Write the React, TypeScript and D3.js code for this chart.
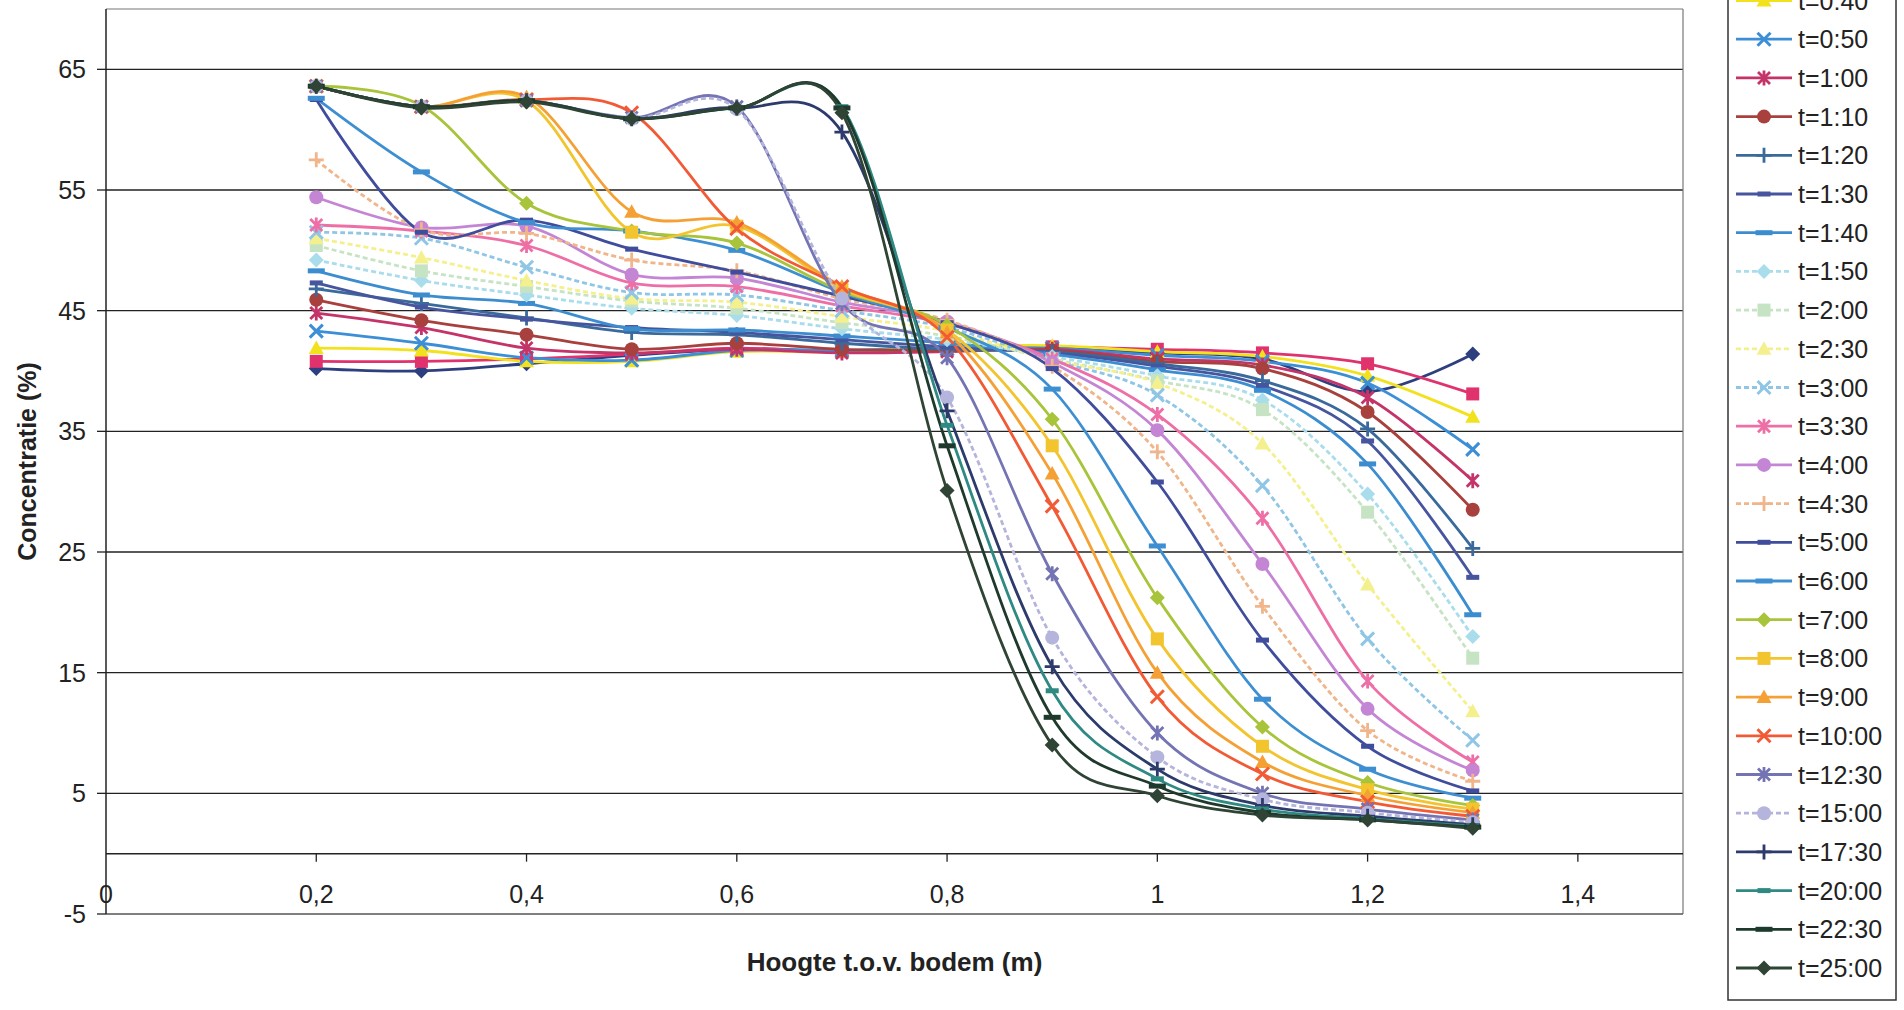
import React from "react";
import * as d3 from "d3";

const heights = [0.2, 0.3, 0.4, 0.5, 0.6, 0.7, 0.8, 0.9, 1.0, 1.1, 1.2, 1.3];

const seriesNames = [
  "t=0:20", "t=0:30", "t=0:40", "t=0:50", "t=1:00", "t=1:10", "t=1:20",
  "t=1:30", "t=1:40", "t=1:50", "t=2:00", "t=2:30", "t=3:00", "t=3:30",
  "t=4:00", "t=4:30", "t=5:00", "t=6:00", "t=7:00", "t=8:00", "t=9:00",
  "t=10:00", "t=12:30", "t=15:00", "t=17:30", "t=20:00", "t=22:30", "t=25:00",
];

const s0020 = [40.2, 40.0, 40.6, 41.3, 41.8, 41.7, 41.9, 41.9, 41.5, 41.0, 38.3, 41.4];
const s0030 = [40.8, 40.8, 41.0, 41.4, 41.9, 41.6, 42.0, 42.0, 41.8, 41.5, 40.6, 38.1];
const s0040 = [41.9, 41.7, 40.8, 40.8, 41.6, 41.6, 42.0, 42.1, 41.6, 41.2, 39.6, 36.2];
const s0050 = [43.3, 42.3, 41.1, 40.9, 41.7, 41.7, 41.8, 41.9, 41.3, 40.8, 39.0, 33.5];
const s0100 = [44.8, 43.6, 41.9, 41.5, 41.8, 41.5, 41.6, 41.8, 41.0, 40.5, 37.8, 30.9];
const s0110 = [45.9, 44.2, 43.0, 41.8, 42.3, 41.8, 41.7, 41.7, 40.8, 40.2, 36.6, 28.5];
const s0120 = [46.8, 45.6, 44.4, 43.2, 43.0, 42.3, 41.8, 41.6, 40.6, 39.2, 35.2, 25.3];
const s0130 = [47.3, 45.3, 44.3, 43.6, 43.2, 42.6, 42.0, 41.5, 40.4, 38.8, 34.2, 22.9];
const s0140 = [48.3, 46.3, 45.6, 43.5, 43.4, 42.9, 42.3, 41.4, 40.1, 38.4, 32.3, 19.8];
const s0150 = [49.2, 47.5, 46.3, 45.2, 44.6, 43.5, 42.6, 41.2, 39.6, 37.6, 29.8, 18.0];
const s0200 = [50.4, 48.3, 47.0, 45.8, 45.2, 44.0, 42.9, 41.0, 39.2, 36.8, 28.3, 16.2];
const s0230 = [51.0, 49.4, 47.5, 46.0, 45.7, 44.5, 43.3, 40.9, 39.0, 34.0, 22.3, 11.8];
const s0300 = [51.5, 51.0, 48.6, 46.5, 46.3, 45.0, 43.6, 40.9, 38.0, 30.5, 17.8, 9.4];
const s0330 = [52.1, 51.6, 50.4, 47.3, 47.0, 45.4, 43.9, 41.0, 36.4, 27.8, 14.3, 7.6];
const s0400 = [54.4, 51.9, 52.0, 48.0, 47.7, 45.7, 44.1, 40.7, 35.1, 24.0, 12.0, 6.9];
const s0430 = [57.5, 51.7, 51.4, 49.2, 48.3, 46.0, 44.2, 40.4, 33.3, 20.5, 10.2, 6.0];
const s0500 = [62.5, 51.5, 52.5, 50.1, 48.2, 46.2, 44.0, 40.2, 30.8, 17.7, 8.9, 5.2];
const s0600 = [62.6, 56.5, 52.3, 51.6, 50.0, 46.5, 43.6, 38.5, 25.5, 12.8, 7.0, 4.6];
const s0700 = [63.6, 62.0, 53.9, 51.6, 50.6, 46.6, 43.8, 36.0, 21.2, 10.5, 5.9, 4.0];
const s0800 = [63.6, 61.9, 62.4, 51.5, 52.0, 46.8, 43.4, 33.8, 17.8, 8.9, 5.3, 3.7];
const s0900 = [63.6, 61.9, 62.7, 53.2, 52.3, 47.0, 43.2, 31.5, 15.0, 7.6, 4.8, 3.4];
const s1000 = [63.6, 61.9, 62.5, 61.4, 51.8, 47.0, 42.8, 28.8, 13.0, 6.6, 4.3, 3.1];
const s1230 = [63.6, 61.9, 62.4, 61.0, 61.9, 45.6, 41.1, 23.2, 10.0, 5.0, 3.7, 2.8];
const s1500 = [63.6, 61.9, 62.4, 60.9, 61.7, 46.0, 37.8, 17.9, 8.0, 4.5, 3.4, 2.6];
const s1730 = [63.6, 61.9, 62.4, 60.9, 61.8, 59.8, 36.7, 15.5, 7.0, 4.0, 3.1, 2.4];
const s2000 = [63.6, 61.9, 62.4, 60.9, 61.8, 61.9, 35.5, 13.5, 6.2, 3.7, 2.9, 2.3];
const s2230 = [63.6, 61.9, 62.4, 60.9, 61.8, 61.8, 33.8, 11.3, 5.6, 3.4, 2.8, 2.2];
const s2500 = [63.6, 61.8, 62.3, 60.9, 61.8, 61.4, 30.1, 9.0, 4.8, 3.2, 2.8, 2.1];

const seriesValues = [
  s0020, s0030, s0040, s0050, s0100, s0110, s0120, s0130, s0140, s0150,
  s0200, s0230, s0300, s0330, s0400, s0430, s0500, s0600, s0700, s0800,
  s0900, s1000, s1230, s1500, s1730, s2000, s2230, s2500,
];

const seriesColors = [
  "#2E3F7F", "#E0336E", "#F2E21E", "#3C8ED6", "#C43468", "#A8403E", "#3A6A9C",
  "#46559E", "#3C8DD0", "#A9DDEB", "#C6E4C4", "#F4F08E", "#8FC6E6", "#EE6FA6",
  "#C486D4", "#F0B58A", "#404C9C", "#3E8FD2", "#A8C43A", "#F2C42E", "#F5A035",
  "#F25A35", "#7474B4", "#B4B4DC", "#2C3B6C", "#2E8A82", "#1E3A2C", "#2F4435",
];

const markerCycle = ["diamond", "square", "triangle", "x", "star", "circle", "plus", "dash", "longdash"];
const dottedSeries = ["t=1:50", "t=2:00", "t=2:30", "t=3:00", "t=4:30", "t=15:00"];

const xTicks = [0, 0.2, 0.4, 0.6, 0.8, 1.0, 1.2, 1.4];
const yTicks = [-5, 5, 15, 25, 35, 45, 55, 65];

const W = 1904;
const H = 1010;
const plot = { left: 106, right: 1683, top: 9, bottom: 914 };

function Marker({ type, x, y, color }: { type: string; x: number; y: number; color: string }) {
  const s = 7.5;
  switch (type) {
    case "diamond":
      return <path d={`M${x},${y - s}L${x + s},${y}L${x},${y + s}L${x - s},${y}Z`} fill={color} />;
    case "square":
      return <rect x={x - 6.5} y={y - 6.5} width={13} height={13} fill={color} />;
    case "triangle":
      return <path d={`M${x},${y - 7.5}L${x + 7.5},${y + 6}L${x - 7.5},${y + 6}Z`} fill={color} />;
    case "x":
      return (
        <path d={`M${x - 6.5},${y - 6.5}L${x + 6.5},${y + 6.5}M${x - 6.5},${y + 6.5}L${x + 6.5},${y - 6.5}`} stroke={color} strokeWidth={3} />
      );
    case "star":
      return (
        <path
          d={`M${x - 6},${y - 6}L${x + 6},${y + 6}M${x - 6},${y + 6}L${x + 6},${y - 6}M${x},${y - 7.5}L${x},${y + 7.5}`}
          stroke={color}
          strokeWidth={2.8}
        />
      );
    case "circle":
      return <circle cx={x} cy={y} r={7} fill={color} />;
    case "plus":
      return <path d={`M${x - 7.5},${y}L${x + 7.5},${y}M${x},${y - 7.5}L${x},${y + 7.5}`} stroke={color} strokeWidth={2.8} />;
    case "dash":
      return <rect x={x - 6.5} y={y - 2.5} width={13} height={5} fill={color} />;
    default:
      return <rect x={x - 8.5} y={y - 2.5} width={17} height={5} fill={color} />;
  }
}

export default function App() {
  const xScale = d3.scaleLinear().domain([0, 1.5]).range([plot.left, plot.right]);
  const yScale = d3.scaleLinear().domain([-5, 70]).range([plot.bottom, plot.top]);
  const line = d3
    .line<number>()
    .x((_, i) => xScale(heights[i]))
    .y((d) => yScale(d))
    .curve(d3.curveCatmullRom.alpha(0));

  const fmt = (v: number) => String(v).replace(".", ",");
  const font = "'Liberation Sans', Arial, sans-serif";

  const legendX = 1728;
  const legendStep = 38.7;
  const legendY0 = 0.5 - 2 * legendStep;

  return (
    <svg
      width={W}
      height={H}
      style={{ position: "fixed", left: 0, top: 0, background: "#fff" }}
      fontFamily={font}
    >
      <rect x={0} y={0} width={W} height={H} fill="#fff" />
      {yTicks
        .filter((t) => t > -5)
        .map((t) => (
          <line key={t} x1={plot.left} x2={plot.right} y1={yScale(t)} y2={yScale(t)} stroke="#222" strokeWidth={1.3} />
        ))}
      <line x1={plot.left} x2={plot.right} y1={plot.top} y2={plot.top} stroke="#777" strokeWidth={1.2} />
      <line x1={plot.right} x2={plot.right} y1={plot.top} y2={plot.bottom} stroke="#777" strokeWidth={1.2} />
      <line x1={plot.left} x2={plot.right} y1={plot.bottom} y2={plot.bottom} stroke="#555" strokeWidth={1.5} />
      <line x1={plot.left} x2={plot.right} y1={yScale(0)} y2={yScale(0)} stroke="#222" strokeWidth={1.5} />
      {xTicks
        .filter((t) => t > 0)
        .map((t) => (
          <line key={t} x1={xScale(t)} x2={xScale(t)} y1={yScale(0)} y2={yScale(0) + 8} stroke="#222" strokeWidth={1.3} />
        ))}
      <line x1={plot.left} x2={plot.left} y1={plot.top} y2={plot.bottom} stroke="#222" strokeWidth={1.5} />
      {yTicks.map((t) => (
        <line key={t} x1={plot.left - 9} x2={plot.left} y1={yScale(t)} y2={yScale(t)} stroke="#222" strokeWidth={1.3} />
      ))}
      {yTicks.map((t) => (
        <text key={t} x={plot.left - 20} y={yScale(t)} dy="0.36em" textAnchor="end" fontSize={25} fill="#222">
          {t}
        </text>
      ))}
      {xTicks.map((t) => (
        <text key={t} x={xScale(t)} y={894} dy="0.36em" textAnchor="middle" fontSize={25} fill="#222">
          {fmt(t)}
        </text>
      ))}
      {seriesValues.map((vals, si) => (
        <path
          key={seriesNames[si]}
          d={line(vals) || ""}
          fill="none"
          stroke={seriesColors[si]}
          strokeWidth={2.8}
          strokeDasharray={dottedSeries.includes(seriesNames[si]) ? "5 3" : undefined}
        />
      ))}
      {seriesValues.map((vals, si) => (
        <g key={seriesNames[si]}>
          {vals.map((v, i) => (
            <Marker key={i} type={markerCycle[si % 9]} x={xScale(heights[i])} y={yScale(v)} color={seriesColors[si]} />
          ))}
        </g>
      ))}
      <text
        x={27}
        y={(plot.top + plot.bottom) / 2}
        transform={`rotate(-90, 27, ${(plot.top + plot.bottom) / 2})`}
        textAnchor="middle"
        dy="0.36em"
        fontSize={25}
        fontWeight="bold"
        fill="#222"
      >
        Concentratie (%)
      </text>
      <text x={(plot.left + plot.right) / 2} y={962} dy="0.36em" textAnchor="middle" fontSize={26} fontWeight="bold" fill="#222">
        Hoogte t.o.v. bodem (m)
      </text>
      <rect x={legendX} y={-120} width={168} height={1120} fill="#fff" stroke="#333" strokeWidth={1.5} />
      {seriesNames.map((name, si) => {
        const y = legendY0 + si * legendStep;
        if (y < -20) return null;
        return (
          <g key={name}>
            <line
              x1={legendX + 8}
              x2={legendX + 64}
              y1={y}
              y2={y}
              stroke={seriesColors[si]}
              strokeWidth={2.8}
              strokeDasharray={dottedSeries.includes(name) ? "5 3" : undefined}
            />
            <Marker type={markerCycle[si % 9]} x={legendX + 36} y={y} color={seriesColors[si]} />
            <text x={legendX + 70} y={y} dy="0.36em" fontSize={25} fill="#222">
              {name}
            </text>
          </g>
        );
      })}
    </svg>
  );
}
